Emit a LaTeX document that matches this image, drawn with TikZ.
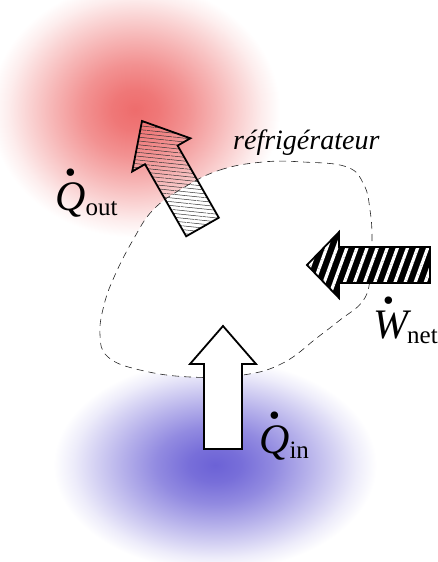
\documentclass[tikz,border=0pt]{standalone}
\usepackage{fontspec}
\setmainfont{Liberation Serif}
\usepackage{graphicx}
\usetikzlibrary{patterns.meta}
\definecolor{hotc}{RGB}{238,108,108}
\definecolor{coldc}{RGB}{108,98,214}
\pgfdeclareradialshading{hotblob}{\pgfpoint{0bp}{0bp}}{color(0bp)=(hotc); color(4bp)=(hotc!92!white); color(9bp)=(hotc!74!white); color(14bp)=(hotc!50!white); color(18bp)=(hotc!30!white); color(21.5bp)=(hotc!12!white); color(24.5bp)=(white); color(25bp)=(white); color(50bp)=(white)}
\pgfdeclareradialshading{coldblob}{\pgfpoint{0bp}{0bp}}{color(0bp)=(coldc); color(4bp)=(coldc!92!white); color(9bp)=(coldc!74!white); color(14bp)=(coldc!50!white); color(18bp)=(coldc!30!white); color(21.5bp)=(coldc!12!white); color(24.5bp)=(white); color(25bp)=(white); color(50bp)=(white)}
\newcommand\withdot[1]{\rlap{\hspace{0.21em}\raisebox{0.82em}{\scalebox{1.5}{.}}}#1}
\newcommand\subtxt[1]{\raisebox{-0.14em}{\fontsize{25}{28}\selectfont #1}}
\tikzset{
  bigfont/.style={font=\fontsize{42}{46}\selectfont},
  lbl/.style={anchor=base west, inner sep=0pt, bigfont},
  arrowline/.style={line width=1.8pt, line join=miter},
  boundary/.style={draw=black!85, line width=0.6pt, dash pattern=on 7pt off 5pt, fill=white},
}
\begin{document}
\begin{tikzpicture}[x=1pt,y=-1pt]
\useasboundingbox (0,0) rectangle (437,562);
% heat reservoirs
\shade[shading=hotblob] (135,110) ellipse [x radius=148, y radius=130];
\shade[shading=coldblob] (215,465) ellipse [x radius=165, y radius=108];
% refrigerator boundary
\path[boundary] plot[smooth cycle, tension=0.7] coordinates {(183,188) (220,170) (263,162) (303,162) (347,167) (364,185) (370,210) (372,240) (370,280) (362,302) (340,320) (318,337) (283,363) (243,375) (190,377) (140,370) (108,357) (100,335) (104,305) (115,275) (133,240) (153,210)};
% Q out arrow (hatched)
\draw[arrowline, pattern={Lines[angle=-6,distance=3.8pt,line width=0.5pt]}, pattern color=black!80]
  (218.8,217.7) -- (177.6,145.6) -- (190.4,138.3) -- (142,121) -- (132.2,171.5) -- (145,164.2) -- (186.2,236.3) -- cycle;
% Q in arrow (white)
\draw[arrowline, fill=white]
  (204,449) -- (204,364) -- (190,364) -- (223,326) -- (256,364) -- (242,364) -- (242,449) -- cycle;
% W net arrow (black, white stripes)
\fill[black] (430,247) -- (339,247) -- (339,232) -- (307,265) -- (339,298) -- (339,283) -- (430,283) -- cycle;
\fill[pattern={Lines[angle=70,distance=9.5pt,line width=3.2pt]}, pattern color=white]
  (430,247) -- (339,247) -- (339,232) -- (307,265) -- (339,298) -- (339,283) -- (430,283) -- cycle;
\draw[arrowline] (430,247) -- (339,247) -- (339,232) -- (307,265) -- (339,298) -- (339,283) -- (430,283) -- cycle;
% labels
\node[lbl, font=\fontsize{28}{32}\selectfont\itshape] (fridge) at (233,149) {réfrigérateur};
\node[lbl] (qout) at (55,210) {\textit{\withdot{Q}}\subtxt{out}};
\node[lbl] (qin) at (259,453) {\textit{\withdot{Q}}\subtxt{in}};
\node[lbl] (wnet) at (373,338) {\textit{\withdot{W}}\hspace{-0.1em}\subtxt{net}};
\end{tikzpicture}
\end{document}
